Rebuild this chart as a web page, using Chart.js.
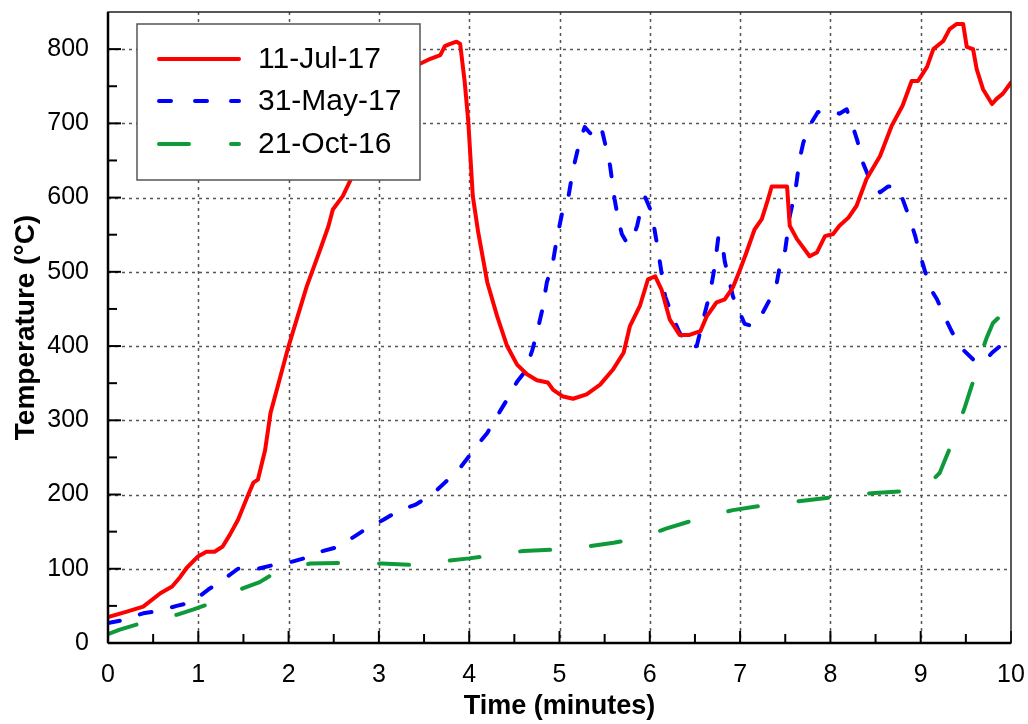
<!DOCTYPE html>
<html>
<head>
<meta charset="utf-8">
<script src="https://cdn.jsdelivr.net/npm/chart.js@4.4.1/dist/chart.umd.min.js"></script>
<style>
  html, body { margin: 0; padding: 0; background: #fff; }
  #wrap { width: 1028px; height: 724px; }
</style>
</head>
<body>
<div id="wrap"><canvas id="c" width="1028" height="724"></canvas></div>
<script>
// Temperature records (time in minutes, temperature in °C)
const timeJul17 = [0, 0.2, 0.39, 0.58, 0.71, 0.8, 0.87, 1.0, 1.09, 1.18, 1.27, 1.35, 1.44, 1.54, 1.61, 1.66, 1.74, 1.8, 1.9, 2.0, 2.1, 2.2, 2.35, 2.44, 2.49, 2.6, 2.75, 2.9, 3.1, 3.3, 3.45, 3.57, 3.68, 3.73, 3.79, 3.86, 3.9, 3.95, 3.99, 4.04, 4.1, 4.2, 4.31, 4.42, 4.53, 4.64, 4.75, 4.87, 4.93, 5.04, 5.15, 5.3, 5.45, 5.59, 5.71, 5.78, 5.89, 5.98, 6.06, 6.13, 6.22, 6.33, 6.44, 6.56, 6.63, 6.74, 6.83, 6.92, 7.0, 7.07, 7.16, 7.24, 7.31, 7.35, 7.47, 7.52, 7.55, 7.63, 7.77, 7.85, 7.94, 8.03, 8.1, 8.2, 8.29, 8.4, 8.55, 8.68, 8.8, 8.9, 8.97, 9.07, 9.14, 9.25, 9.32, 9.4, 9.47, 9.51, 9.58, 9.62, 9.69, 9.79, 9.84, 9.91, 10.0];
const tempJul17 = [35, 42, 49, 67, 76, 89, 101, 117, 123, 123, 130, 146, 166, 196, 216, 220, 260, 310, 355, 400, 440, 480, 530, 561, 584, 602, 640, 680, 735, 765, 780, 787, 792, 804, 807, 810, 807, 756, 702, 602, 553, 486, 440, 400, 375, 362, 354, 351, 341, 332, 329, 335, 348, 368, 391, 427, 454, 490, 494, 476, 436, 415, 415, 420, 440, 459, 463, 479, 503, 526, 557, 571, 598, 615, 615, 615, 562, 544, 521, 526, 548, 551, 562, 573, 589, 625, 656, 697, 724, 757, 757, 776, 800, 811, 827, 834, 834, 803, 800, 773, 746, 726, 733, 740, 755];

const timeMay17 = [0, 0.17, 0.39, 0.56, 0.76, 0.93, 1.11, 1.24, 1.44, 1.59, 1.83, 1.99, 2.2, 2.35, 2.57, 2.71, 2.9, 3.05, 3.23, 3.4, 3.59, 3.73, 3.9, 4.0, 4.12, 4.2, 4.34, 4.42, 4.53, 4.62, 4.7, 4.75, 4.81, 4.86, 4.92, 4.97, 5.04, 5.1, 5.15, 5.23, 5.28, 5.33, 5.4, 5.47, 5.52, 5.56, 5.61, 5.65, 5.69, 5.75, 5.81, 5.86, 5.91, 5.95, 6.02, 6.09, 6.17, 6.25, 6.33, 6.44, 6.52, 6.58, 6.64, 6.69, 6.72, 6.76, 6.8, 6.83, 6.87, 6.92, 6.98, 7.05, 7.13, 7.22, 7.33, 7.4, 7.44, 7.5, 7.55, 7.61, 7.66, 7.7, 7.77, 7.86, 7.95, 8.03, 8.1, 8.18, 8.25, 8.3, 8.36, 8.42, 8.55, 8.64, 8.73, 8.8, 8.88, 8.94, 8.99, 9.03, 9.1, 9.18, 9.27, 9.35, 9.47, 9.58, 9.7, 9.79, 9.88, 9.93, 10.0];
const tempMay17 = [27, 31, 40, 43, 50, 55, 72, 82, 100, 98, 105, 108, 115, 123, 130, 142, 157, 166, 179, 186, 200, 216, 236, 252, 271, 283, 312, 328, 352, 366, 395, 418, 449, 486, 508, 544, 586, 602, 638, 679, 695, 688, 679, 691, 665, 643, 598, 571, 551, 538, 544, 562, 589, 600, 580, 530, 467, 440, 418, 398, 400, 430, 459, 487, 508, 548, 541, 514, 494, 467, 449, 430, 427, 438, 463, 481, 508, 530, 575, 607, 652, 674, 697, 715, 718, 717, 713, 719, 695, 676, 647, 629, 607, 615, 615, 598, 571, 548, 524, 508, 479, 463, 438, 418, 395, 382, 378, 391, 400, 402, 398];

const timeOct16 = [0, 0.13, 0.35, 0.55, 0.76, 0.94, 1.13, 1.3, 1.5, 1.68, 1.83, 2.0, 2.24, 2.62, 3.03, 3.4, 3.7, 4.0, 4.3, 4.6, 5.0, 5.3, 5.6, 5.9, 6.18, 6.53, 6.92, 7.3, 7.72, 8.08, 8.49, 8.87, 9.05, 9.21, 9.28, 9.35, 9.49, 9.55, 9.6, 9.67, 9.73, 9.8, 9.86, 9.9, 9.91];
const tempOct16 = [12, 18, 26, 32, 38, 45, 53, 63, 74, 82, 93, 101, 107, 108, 107, 105, 110, 114, 119, 124, 126, 130, 135, 142, 154, 167, 179, 186, 192, 197, 202, 205, 210, 229, 250, 270, 318, 341, 359, 390, 411, 431, 438, 440, 433];

const seriesLabels = ['11-Jul-17', '31-May-17', '21-Oct-16'];

// Axis ticks
const xTicks = [0, 1, 2, 3, 4, 5, 6, 7, 8, 9, 10];
const xMinorTicks = [0.5, 1.5, 2.5, 3.5, 4.5, 5.5, 6.5, 7.5, 8.5, 9.5];
const yTicks = [0, 100, 200, 300, 400, 500, 600, 700, 800];
const yMinorTicks = [50, 150, 250, 350, 450, 550, 650, 750];

const FONT = '"Liberation Sans", Arial, sans-serif';

function toPoints(xs, ys) {
  return xs.map((x, i) => ({ x: x, y: ys[i] }));
}

// Fixed axis band sizes, without the extra edge padding for labels
function fixSize(prop, size) {
  return s => {
    s[prop] = size;
    s.paddingTop = 0; s.paddingBottom = 0; s.paddingLeft = 0; s.paddingRight = 0;
  };
}

// Grid, frame, inward tick marks and the boxed legend
const framePlugin = {
  id: 'frame',
  beforeDatasetsDraw(chart) {
    const { ctx, chartArea: a, scales: { x, y } } = chart;
    ctx.save();
    ctx.strokeStyle = '#555';
    ctx.lineWidth = 1.5;
    ctx.setLineDash([3, 4]);
    xTicks.forEach(v => {
      if (v === x.min || v === x.max) return;
      const px = Math.round(x.getPixelForValue(v)) + 0.5;
      ctx.beginPath(); ctx.moveTo(px, a.top); ctx.lineTo(px, a.bottom); ctx.stroke();
    });
    yTicks.forEach(v => {
      if (v === y.min) return;
      const py = Math.round(y.getPixelForValue(v)) + 0.5;
      ctx.beginPath(); ctx.moveTo(a.left, py); ctx.lineTo(a.right, py); ctx.stroke();
    });
    ctx.restore();
  },
  afterDatasetsDraw(chart) {
    const { ctx, chartArea: a, scales: { x, y } } = chart;
    ctx.save();
    ctx.setLineDash([]);
    // tick marks, pointing into the plot
    ctx.strokeStyle = '#000';
    ctx.lineWidth = 2;
    const tick = (x1, y1, x2, y2) => { ctx.beginPath(); ctx.moveTo(x1, y1); ctx.lineTo(x2, y2); ctx.stroke(); };
    xTicks.forEach(v => { const px = x.getPixelForValue(v); tick(px, a.bottom, px, a.bottom - 12); });
    xMinorTicks.forEach(v => { const px = x.getPixelForValue(v); tick(px, a.bottom, px, a.bottom - 9); });
    yTicks.forEach(v => { const py = y.getPixelForValue(v); tick(a.left, py, a.left + 13, py); });
    yMinorTicks.forEach(v => { const py = y.getPixelForValue(v); tick(a.left, py, a.left + 9, py); });
    // frame
    ctx.lineWidth = 1.5;
    ctx.strokeStyle = '#222';
    ctx.strokeRect(a.left, a.top, a.right - a.left, a.bottom - a.top);
    ctx.lineWidth = 2.5;
    ctx.strokeStyle = '#000';
    tick(a.left, a.top, a.left, a.bottom);
    tick(a.left, a.bottom, a.right, a.bottom);

    // legend box
    const lx = a.left + 29, ly = a.top + 12, lw = 283, lh = 156;
    ctx.fillStyle = '#fff';
    ctx.fillRect(lx, ly, lw, lh);
    ctx.lineWidth = 1.5;
    ctx.strokeStyle = '#555';
    ctx.strokeRect(lx, ly, lw, lh);
    const rows = [ly + 35, ly + 77, ly + 120];
    chart.data.datasets.forEach((ds, i) => {
      ctx.save();
      ctx.strokeStyle = ds.borderColor;
      ctx.lineWidth = ds.borderWidth;
      ctx.lineCap = 'round';
      ctx.setLineDash(ds.legendDash || []);
      ctx.beginPath();
      ctx.moveTo(lx + 22, rows[i]);
      ctx.lineTo(lx + 102, rows[i]);
      ctx.stroke();
      ctx.restore();
      ctx.fillStyle = '#000';
      ctx.font = '30px ' + FONT;
      ctx.textBaseline = 'middle';
      ctx.textAlign = 'left';
      ctx.fillText(ds.label, lx + 121, rows[i] + 1);
    });
    ctx.restore();
  }
};

new Chart(document.getElementById('c'), {
  type: 'line',
  data: {
    datasets: [
      { label: seriesLabels[0], data: toPoints(timeJul17, tempJul17), borderColor: '#ff0000', borderWidth: 4, pointRadius: 0, borderCapStyle: 'round', borderJoinStyle: 'round' },
      { label: seriesLabels[1], data: toPoints(timeMay17, tempMay17), borderColor: '#0000ff', borderWidth: 4, pointRadius: 0, borderDash: [12, 21], legendDash: [12, 24], borderCapStyle: 'round', borderJoinStyle: 'round' },
      { label: seriesLabels[2], data: toPoints(timeOct16, tempOct16), borderColor: '#0f9a3a', borderWidth: 4, pointRadius: 0, borderDash: [30, 41], legendDash: [30, 42], borderCapStyle: 'round', borderJoinStyle: 'round' }
    ]
  },
  options: {
    responsive: false,
    animation: false,
    events: [],
    layout: { padding: { top: 12, right: 17, left: 0, bottom: 0 } },
    plugins: { legend: { display: false }, tooltip: { enabled: false } },
    scales: {
      x: {
        type: 'linear', min: 0, max: 10,
        afterBuildTicks: s => { s.ticks = xTicks.map(v => ({ value: v })); },
        afterFit: fixSize('height', 81),
        grid: { display: false, drawTicks: false },
        border: { display: false },
        ticks: { color: '#000', font: { family: FONT, size: 25 }, padding: 17, maxRotation: 0 },
        title: { display: true, text: 'Time (minutes)', color: '#000', font: { family: FONT, size: 27, weight: 'bold' }, padding: { top: 0, bottom: 1 } }
      },
      y: {
        type: 'linear', min: 0, max: 850,
        afterBuildTicks: s => { s.ticks = yTicks.map(v => ({ value: v })); },
        afterFit: fixSize('width', 108),
        grid: { display: false, drawTicks: false },
        border: { display: false },
        ticks: { color: '#000', font: { family: FONT, size: 25 }, padding: 19 },
        title: { display: true, text: 'Temperature (°C)', color: '#000', font: { family: FONT, size: 28, weight: 'bold' }, padding: { top: 9, bottom: 0 } }
      }
    }
  },
  plugins: [framePlugin]
});
</script>
</body>
</html>
